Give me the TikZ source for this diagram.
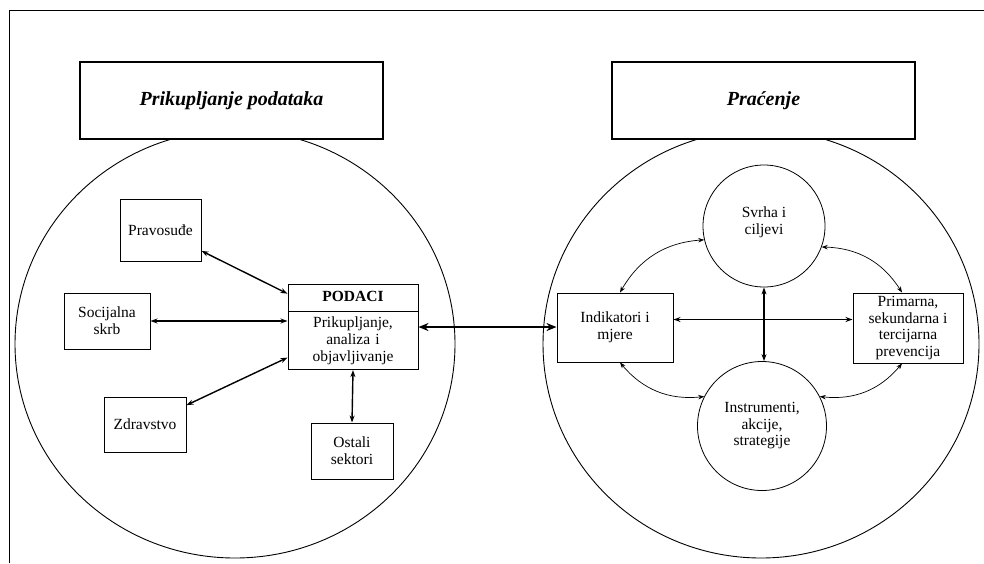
\documentclass[tikz,border=0pt]{standalone}
\usepackage{fontspec}
\setmainfont{Liberation Serif}
\usetikzlibrary{shapes, shapes.multipart, arrows.meta, positioning}
\tikzstyle{heading} = [rectangle, draw, fill=white, line width=1.1pt, minimum width=303pt, minimum height=77pt, font=\fontsize{20}{24}\selectfont\bfseries\itshape]
\tikzstyle{sector} = [rectangle, draw, line width=1pt, align=center, inner sep=1pt, font=\fontsize{15.5}{17}\selectfont]
\tikzstyle{measure} = [rectangle, draw, line width=1pt, align=center, inner sep=1pt, font=\fontsize{15.5}{16.5}\selectfont]
\tikzstyle{goal} = [circle, draw, line width=0.8pt, align=center, inner sep=0pt, font=\fontsize{15.5}{16.5}\selectfont]
\tikzstyle{link} = [<->, >={Stealth[length=7pt,width=5pt]}, line width=1.4pt]
\tikzstyle{mainlink} = [<->, >={Stealth[length=10pt,width=8pt]}, line width=2.6pt]
\tikzstyle{feedback} = [<->, >={Stealth[length=6pt,width=4.5pt]}, line width=0.7pt]

\begin{document}
\begin{tikzpicture}[x=1pt, y=-1pt]
  \useasboundingbox (0,0) rectangle (984,563);
  % frame
  \draw[line width=1pt] (9,563) -- (9,10) -- (984,10);

  % areas
  \draw[line width=0.9pt] (235,344) ellipse [x radius=220, y radius=214];
  \draw[line width=0.9pt] (761,344) ellipse [x radius=218, y radius=214];

  % headings
  \node[heading] (collect) at (231.5,100.5) {Prikupljanje podataka};
  \node[heading] (monitor) at (763.5,100.5) {Praćenje};

  % data sources
  \node[sector, minimum width=81pt, minimum height=62pt] (justice) at (160.5,230) {Pravosuđe};
  \node[sector, minimum width=86pt, minimum height=56pt] (social) at (107,321) {Socijalna\\skrb};
  \node[sector, minimum width=82pt, minimum height=55pt] (health) at (145,424.5) {Zdravstvo};
  \node[sector, minimum width=82pt, minimum height=56pt] (other) at (352,451) {Ostali\\sektori};
  \node[sector, rectangle split, rectangle split parts=2, text width=128pt, inner ysep=4.5pt, anchor=north] (data) at (353,284)
    {\textbf{PODACI}\strut\nodepart{second}Prikupljanje,\\analiza i\\objavljivanje};

  % monitoring
  \node[measure, minimum width=116pt, minimum height=69pt] (indic) at (615,327.5) {Indikatori i\\mjere};
  \node[measure, minimum width=110pt, minimum height=70pt] (prevent) at (908,328) {Primarna,\\sekundarna i\\tercijarna\\prevencija};
  \node[goal, minimum size=122pt] (aims) at (764,226) {Svrha i\\ciljevi\\[-6pt]};
  \node[goal, minimum size=129pt] (tools) at (762,426) {Instrumenti,\\akcije,\\strategije};

  % data links
  \draw[link] (justice.-27) -- (data.153);
  \draw[link] (social.east) -- (social.east -| data.west);
  \draw[link] (health.25) -- (data.205);
  \draw[link] (data.south) -- (other.north);
  \draw[mainlink] (data.east) -- (data.east -| indic.west);

  % monitoring links
  \draw[link] ([yshift=8pt]indic.east) -- ([yshift=8pt]indic.east -| prevent.west);
  \draw[link] (aims.south) -- (aims.south |- tools.north);
  \draw[feedback] ([xshift=5pt]indic.north) to[bend left=28] (aims.193);
  \draw[feedback] (aims.-20) to[bend left=28] ([xshift=-6pt]prevent.north);
  \draw[feedback] ([xshift=5pt]indic.south) to[bend right=28] (tools.153);
  \draw[feedback] (tools.27) to[bend right=28] ([xshift=-6pt]prevent.south);
\end{tikzpicture}
\end{document}
